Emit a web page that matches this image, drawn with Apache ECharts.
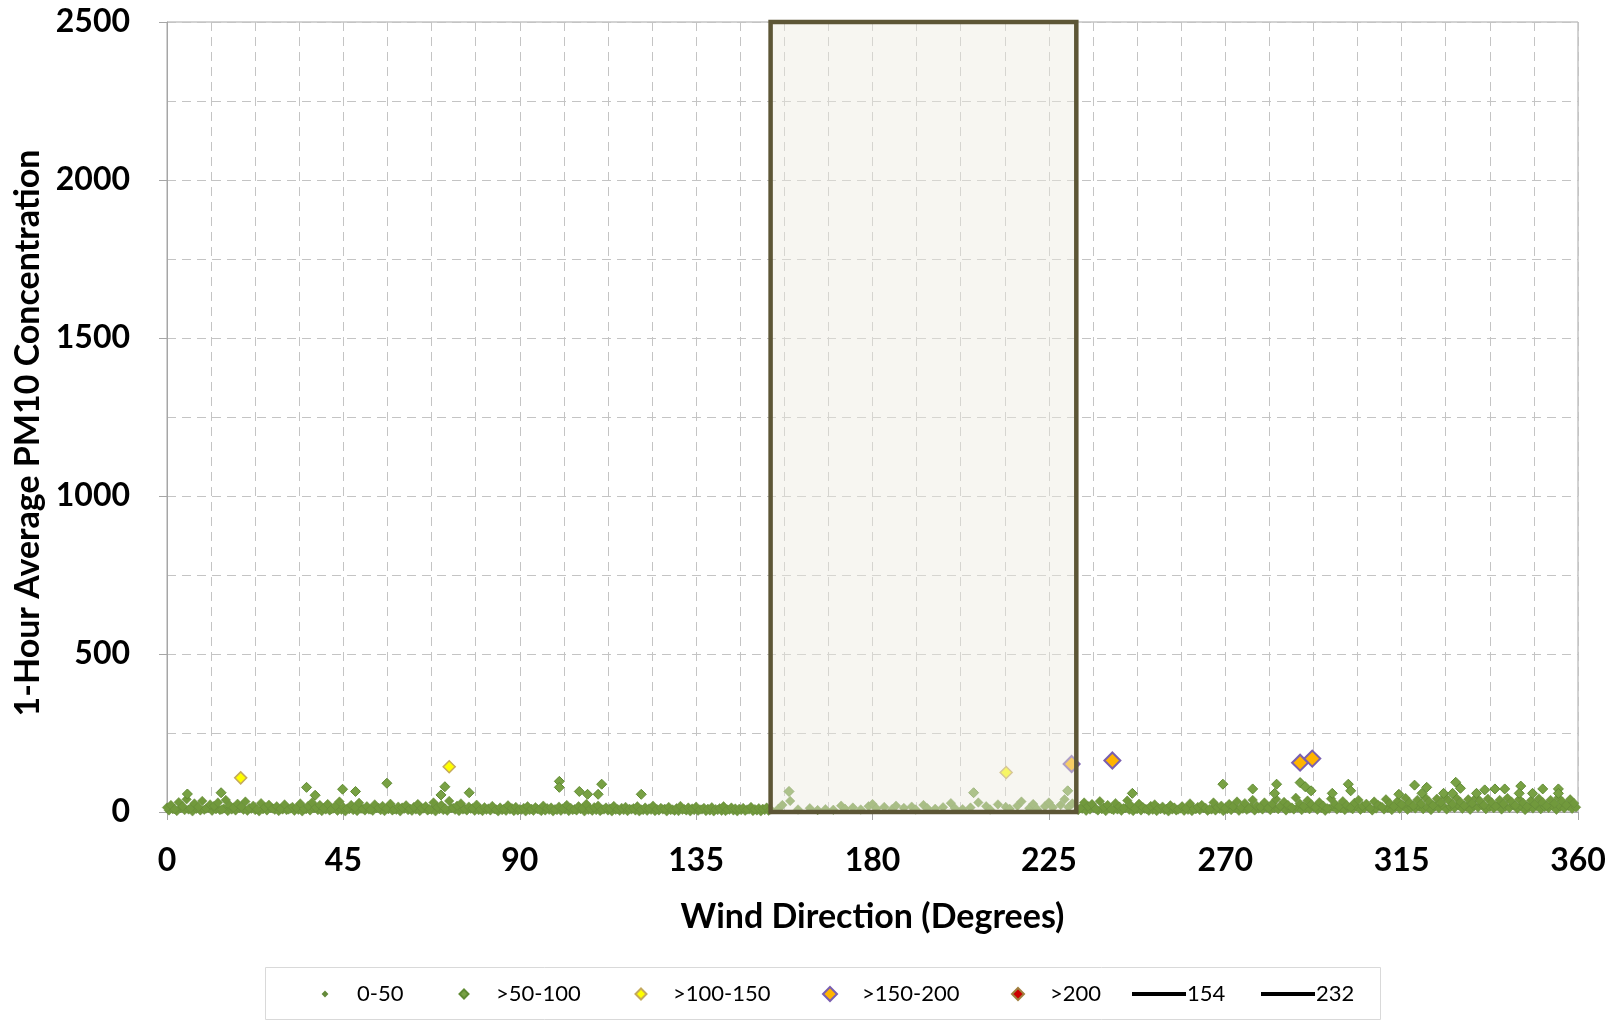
<!DOCTYPE html>
<html><head><meta charset="utf-8">
<script src="https://cdn.jsdelivr.net/npm/echarts@6/dist/echarts.min.js"></script>
<style>html,body{margin:0;padding:0;background:#fff}#c{width:1618px;height:1024px}</style>
</head><body><div id="c"></div>
<script>
// 0-50 band (upper points)
const pm0to50 = [[0,14],[1,22],[2,9],[3,31],[4,18],[5,40],[6,12],[7,27],[8,16],[9,35],[10,11],[11,24],[12,19],[13,30],[14,8],[15,38],[16,21],[17,14],[18,26],[19,17],
[20,33],[21,12],[22,20],[23,9],[24,28],[25,15],[26,23],[27,11],[28,18],[29,10],[30,24],[31,8],[32,16],[33,13],[34,27],[35,10],[36,19],[37,30],[38,14],[39,22],
[40,12],[41,25],[42,9],[43,20],[44,33],[45,15],[46,11],[47,22],[48,14],[49,29],[50,10],[51,18],[52,8],[53,24],[54,13],[55,19],[56,11],[57,26],[58,9],[59,17],
[60,14],[61,21],[62,10],[63,16],[64,25],[65,12],[66,18],[67,9],[68,30],[69,15],[70,22],[71,11],[72,35],[73,13],[74,20],[75,27],[76,10],[77,17],[78,12],[79,23],
[80,9],[81,15],[82,11],[83,19],[84,8],[85,14],[86,10],[87,21],[88,12],[89,16],[90,9],[91,13],[92,18],[93,10],[94,15],[95,8],[96,20],[97,12],[98,14],[99,9],
[100,17],[101,11],[102,22],[103,13],[104,9],[105,18],[106,12],[107,25],[108,10],[109,15],[110,20],[111,8],[112,14],[113,11],[114,19],[115,9],[116,13],[117,16],[118,10],[119,12],
[120,18],[121,8],[122,14],[123,11],[124,20],[125,9],[126,13],[127,10],[128,16],[129,8],[130,12],[131,19],[132,9],[133,14],[134,11],[135,17],[136,8],[137,13],[138,10],[139,15],
[140,9],[141,12],[142,18],[143,8],[144,14],[145,11],[146,10],[147,13],[148,8],[149,16],[150,9],[151,12],[152,10],[153,14],[154,8],
[156,10],[157,22],[159,35],[161,8],[164,12],[166,6],[168,9],[170,7],[172,20],[173,10],[175,14],[177,8],[179,18],[180,25],[181,11],[183,16],[185,9],[186,20],[188,13],[190,17],[191,8],[193,22],[194,12],[196,10],[198,15],[200,28],[201,12],[203,9],[205,14],[207,30],[209,18],[210,8],[212,24],[214,16],[215,10],[217,20],[218,33],[220,12],[221,25],[222,9],[224,18],[225,30],[226,14],[228,22],[229,40],[230,15],[231,27],
[233,12],[234,30],[235,18],[236,25],[237,10],[238,34],[239,15],[240,22],[241,9],[242,28],[243,17],[244,12],[245,36],[246,20],[247,11],[248,26],[249,15],[250,9],[251,19],[252,24],[253,12],[254,17],[255,10],[256,21],[257,14],[258,8],[259,18],[260,12],[261,27],[262,10],[263,16],[264,22],[265,13],[266,9],[267,30],[268,15],[269,20],
[270,12],[271,25],[272,18],[273,33],[274,14],[275,28],[276,11],[277,38],[278,20],[279,16],[280,30],[281,13],[282,26],[283,40],[284,19],[285,32],[286,22],[287,14],[288,45],[289,27],[290,18],[291,36],[292,24],[293,15],[294,31],[295,20],[296,12],[297,42],[298,25],[299,17],
[300,34],[301,21],[302,14],[303,29],[304,38],[305,19],[306,26],[307,12],[308,33],[309,22],[310,16],[311,40],[312,27],[313,18],[314,35],[315,24],[316,44],[317,30],[318,20],[319,38],[320,26],[321,46],[322,33],[323,21],[324,42],[325,30],[326,48],[327,36],[328,25],[329,44],
[330,32],[331,20],[332,40],[333,28],[334,45],[335,35],[336,22],[337,42],[338,30],[339,18],[340,38],[341,26],[342,44],[343,33],[344,21],[345,40],[346,29],[347,17],[348,36],[349,25],[350,43],[351,31],[352,20],[353,38],[354,27],[355,45],[356,33],[357,22],[358,40],[359,28]];
// 0-50 band (lower points)
const pm0to50Low = [[0.5,5],[1.5,9],[2.5,3],[3.5,12],[4.5,6],[5.5,8],[6.5,2],[7.5,10],[8.5,5],[9.5,7],[10.5,13],[11.5,4],[12.5,9],[13.5,6],[14.5,11],[15.5,3],[16.5,8],[17.5,5],[18.5,12],[19.5,7],
[20.5,4],[21.5,10],[22.5,6],[23.5,2],[24.5,9],[25.5,5],[26.5,12],[27.5,7],[28.5,3],[29.5,8],[30.5,6],[31.5,11],[32.5,4],[33.5,7],[34.5,2],[35.5,9],[36.5,5],[37.5,12],[38.5,6],[39.5,3],
[40.5,8],[41.5,5],[42.5,11],[43.5,4],[44.5,7],[45.5,2],[46.5,9],[47.5,6],[48.5,3],[49.5,10],[50.5,5],[51.5,8],[52.5,4],[53.5,12],[54.5,6],[55.5,3],[56.5,9],[57.5,5],[58.5,7],[59.5,2],
[60.5,10],[61.5,6],[62.5,4],[63.5,8],[64.5,3],[65.5,11],[66.5,5],[67.5,7],[68.5,2],[69.5,9],[70.5,6],[71.5,4],[72.5,12],[73.5,7],[74.5,3],[75.5,8],[76.5,5],[77.5,10],[78.5,4],[79.5,6],
[80.5,3],[81.5,7],[82.5,5],[83.5,9],[84.5,2],[85.5,6],[86.5,4],[87.5,8],[88.5,3],[89.5,5],[90.5,7],[91.5,2],[92.5,6],[93.5,4],[94.5,9],[95.5,3],[96.5,5],[97.5,7],[98.5,2],[99.5,6],
[100.5,4],[101.5,8],[102.5,3],[103.5,6],[104.5,5],[105.5,9],[106.5,2],[107.5,7],[108.5,4],[109.5,6],[110.5,3],[111.5,8],[112.5,5],[113.5,2],[114.5,7],[115.5,4],[116.5,6],[117.5,3],[118.5,8],[119.5,5],
[120.5,2],[121.5,6],[122.5,4],[123.5,7],[124.5,3],[125.5,5],[126.5,8],[127.5,2],[128.5,6],[129.5,4],[130.5,3],[131.5,7],[132.5,5],[133.5,2],[134.5,6],[135.5,4],[136.5,8],[137.5,3],[138.5,5],[139.5,2],
[140.5,6],[141.5,4],[142.5,3],[143.5,7],[144.5,5],[145.5,2],[146.5,6],[147.5,4],[148.5,8],[149.5,3],[150.5,5],[151.5,2],[152.5,6],[153.5,4],
[232.5,6],[233.5,10],[234.5,4],[235.5,8],[236.5,13],[237.5,5],[238.5,9],[239.5,3],[240.5,11],[241.5,6],[242.5,8],[243.5,4],[244.5,12],[245.5,7],[246.5,3],[247.5,9],[248.5,5],[249.5,10],[250.5,4],[251.5,7],
[252.5,3],[253.5,9],[254.5,6],[255.5,2],[256.5,8],[257.5,5],[258.5,11],[259.5,4],[260.5,7],[261.5,3],[262.5,9],[263.5,6],[264.5,12],[265.5,4],[266.5,8],[267.5,5],[268.5,10],[269.5,3],
[270.5,9],[271.5,6],[272.5,13],[273.5,4],[274.5,10],[275.5,7],[276.5,15],[277.5,5],[278.5,11],[279.5,8],[280.5,14],[281.5,6],[282.5,12],[283.5,9],[284.5,16],[285.5,5],[286.5,11],[287.5,8],[288.5,14],[289.5,6],
[290.5,12],[291.5,9],[292.5,15],[293.5,7],[294.5,13],[295.5,4],[296.5,10],[297.5,16],[298.5,8],[299.5,12],
[300.5,6],[301.5,14],[302.5,9],[303.5,17],[304.5,7],[305.5,12],[306.5,15],[307.5,5],[308.5,11],[309.5,18],[310.5,8],[311.5,13],[312.5,6],[313.5,16],[314.5,10],[315.5,19],[316.5,7],[317.5,14],[318.5,11],[319.5,17],
[320.5,9],[321.5,15],[322.5,6],[323.5,18],[324.5,12],[325.5,20],[326.5,8],[327.5,16],[328.5,13],[329.5,21],[330.5,10],[331.5,17],[332.5,7],[333.5,19],[334.5,14],[335.5,22],[336.5,9],[337.5,16],[338.5,12],[339.5,20],
[340.5,8],[341.5,17],[342.5,13],[343.5,21],[344.5,10],[345.5,18],[346.5,6],[347.5,15],[348.5,11],[349.5,19],[350.5,9],[351.5,16],[352.5,13],[353.5,20],[354.5,7],[355.5,17],[356.5,12],[357.5,19],[358.5,10],[359.5,15]];
const pm50to100 = [[5.2,57],[13.8,61],[35.6,78],[37.8,53],[44.8,72],[48.1,65],[56.1,91],[70.9,80],[69.9,54],[77.1,61],[100.1,97],[100.1,78],[105.2,65],[107.3,56],[110.0,56],[110.9,88],[121.0,56],[158.7,65],[205.8,61],[229.8,67],[246.3,59],[269.4,88],[277.0,73],[283.1,88],[282.6,59],[289.1,93],[290.4,80],[291.9,67],[301.4,88],[302.0,67],[297.3,59],[318.3,85],[321.4,78],[320.2,59],[328.8,94],[330.0,75],[325.7,59],[334.1,59],[336.2,70],[338.8,73],[341.3,73],[345.4,82],[348.4,59],[351,73],[355,73],[355,59],[345,59],[328,59],[314.3,56]];
const pm100to150 = [[18.8,108],[72.0,143],[214.1,125]];
const pm150to200 = [[230.8,152],[241.2,163],[289.1,156],[292.2,169]];
const pm200plus = [];
const line154 = [[154,0],[154,2500]];
const line232 = [[232,0],[232,2500]];
const xTicks = [0,45,90,135,180,225,270,315,360];
const yTicks = [0,500,1000,1500,2000,2500];

const FONT = 'Lato';
const green = '#71993c';
const dash = {type:[9,6], color:'#c4c4c4', width:1};
function lgMark(name, center, s){
  return {data:[name], left:center - s/2, top:994 - 12, itemWidth:s, itemHeight:s, padding:0, itemGap:0, selectedMode:false,
    textStyle:{fontFamily:FONT, fontSize:22, color:'#000', lineHeight:24, padding:[0,0,0,27 - s/2]}};
}
function lgLine(name, left){
  return {data:[{name:name, icon:'rect'}], left:left, top:994 - 12, itemWidth:54, itemHeight:4, padding:0, itemGap:0, selectedMode:false,
    textStyle:{fontFamily:FONT, fontSize:22, color:'#000', lineHeight:24, padding:[0,0,0,-4]}};
}
const option = {
  animation:false,
  grid: {left:167, right:40, top:22, bottom:212, show:true, borderColor:'#a6a6a6', borderWidth:1},
  xAxis: {type:'value', min:xTicks[0], max:xTicks[xTicks.length-1], interval:45,
    name:'Wind Direction (Degrees)', nameLocation:'middle', nameGap:88,
    nameTextStyle:{fontFamily:FONT, fontWeight:'bold', fontSize:34, color:'#000'},
    axisLine:{lineStyle:{color:'#a6a6a6'}}, axisTick:{show:true, length:8, lineStyle:{color:'#a6a6a6'}},
    axisLabel:{fontFamily:FONT, fontWeight:'bold', fontSize:32, color:'#000', margin:33, formatter:v=>String(v)},
    splitLine:{show:true, lineStyle:dash},
    minorTick:{show:true, splitNumber:4, length:0},
    minorSplitLine:{show:true, lineStyle:dash}},
  yAxis: {type:'value', min:yTicks[0], max:yTicks[yTicks.length-1], interval:500,
    name:'1-Hour Average PM10 Concentration', nameLocation:'middle', nameGap:107,
    nameTextStyle:{fontFamily:FONT, fontWeight:'bold', fontSize:34, color:'#000', padding:[0,32,0,0]},
    axisLine:{show:true, lineStyle:{color:'#a6a6a6'}}, axisTick:{show:true, length:8, lineStyle:{color:'#a6a6a6'}},
    axisLabel:{fontFamily:FONT, fontWeight:'bold', fontSize:32, color:'#000', margin:37, formatter:v=>String(v)},
    splitLine:{show:true, lineStyle:dash},
    minorTick:{show:true, splitNumber:2, length:0},
    minorSplitLine:{show:true, lineStyle:dash}},
  legend: [lgMark('0-50',324,4), lgMark('>50-100',463,9), lgMark('>100-150',640,11), lgMark('>150-200',829,14), lgMark('>200',1017,12), lgLine('154',1132), lgLine('232',1261)],
  graphic: [{type:'rect', shape:{x:265.5, y:967.5, width:1115, height:52}, style:{fill:'none', stroke:'#d9d9d9', lineWidth:1}, silent:true}],
  series: [
    {name:'0-50', type:'scatter', symbol:'diamond', symbolSize:9.5, data:pm0to50Low.concat(pm0to50),
      itemStyle:{color:green, borderColor:'#64893a', borderWidth:0.5, opacity:1}},
    {name:'>50-100', type:'scatter', symbol:'diamond', symbolSize:10, data:pm50to100,
      itemStyle:{color:'#78a144', borderColor:'#5f8a32', borderWidth:1, opacity:1}},
    {name:'>100-150', type:'scatter', symbol:'diamond', symbolSize:12, data:pm100to150,
      itemStyle:{color:'#ffff00', borderColor:'#c4a95c', borderWidth:1.5, opacity:1}},
    {name:'>150-200', type:'scatter', symbol:'diamond', symbolSize:16, data:pm150to200,
      itemStyle:{color:'#ffb400', borderColor:'#7a5fb0', borderWidth:2, opacity:1}},
    {name:'>200', type:'scatter', symbol:'diamond', symbolSize:13, data:pm200plus,
      itemStyle:{color:'#cc0000', borderColor:'#a08040', borderWidth:1.5, opacity:1}},
    {name:'154', type:'line', symbol:'none', z:1, data:line154, lineStyle:{color:'#000', width:2}, itemStyle:{color:'#000'}},
    {name:'232', type:'line', symbol:'none', z:1, data:line232, lineStyle:{color:'#000', width:2}, itemStyle:{color:'#000'}},
    {type:'scatter', data:[], z:10, silent:true,
      markArea:{silent:true, z:10, itemStyle:{color:'rgba(238,235,225,0.45)', borderColor:'#5d5636', borderWidth:4.5},
        data:[[{coord:[line154[0][0], yTicks[0]]},{coord:[line232[1][0], yTicks[yTicks.length-1]]}]]}}
  ]
};
echarts.init(document.getElementById('c')).setOption(option);
</script></body></html>
